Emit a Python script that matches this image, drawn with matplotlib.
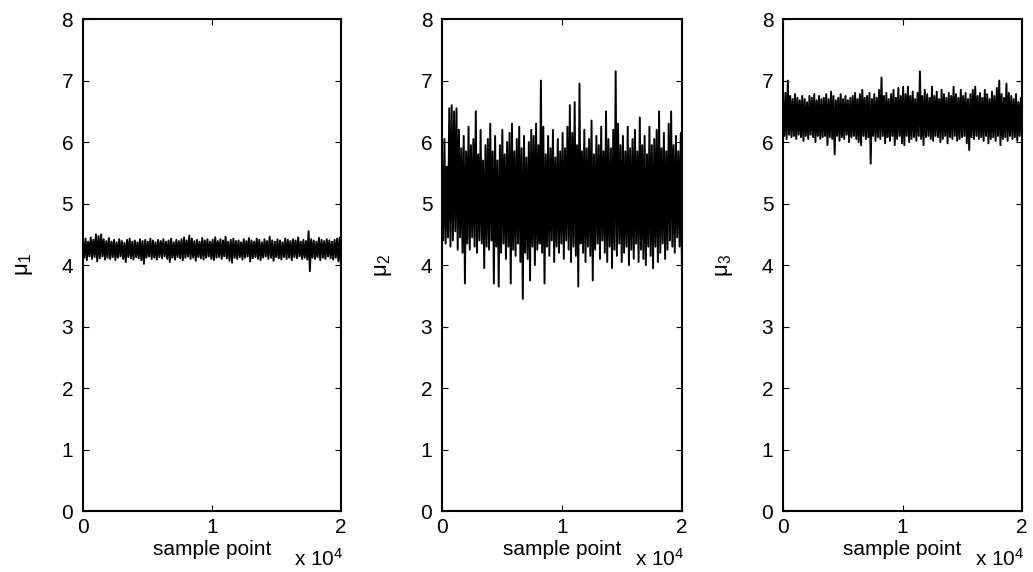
import numpy as np
import matplotlib
matplotlib.use("Agg")
import matplotlib.pyplot as plt

plt.rcParams['font.family'] = ['Liberation Sans', 'DejaVu Sans']
plt.rcParams['mathtext.default'] = 'regular'

# trace peaks / troughs, one pair every 200 samples
n_samples = 20000

mu1_high = [4.40, 4.43, 4.38, 4.45, 4.41, 4.50, 4.47, 4.50, 4.42, 4.39,
            4.44, 4.38, 4.41, 4.37, 4.42, 4.39, 4.36, 4.41, 4.43, 4.38,
            4.40, 4.37, 4.42, 4.39, 4.41, 4.38, 4.43, 4.40, 4.37, 4.41,
            4.39, 4.42, 4.38, 4.40, 4.43, 4.37, 4.41, 4.39, 4.42, 4.45,
            4.40, 4.48, 4.43, 4.39, 4.41, 4.38, 4.44, 4.40, 4.42, 4.38,
            4.41, 4.45, 4.39, 4.42, 4.40, 4.46, 4.38, 4.41, 4.43, 4.39,
            4.40, 4.37, 4.42, 4.39, 4.44, 4.40, 4.38, 4.43, 4.41, 4.37,
            4.42, 4.39, 4.46, 4.40, 4.38, 4.42, 4.40, 4.37, 4.43, 4.41,
            4.39, 4.42, 4.40, 4.45, 4.38, 4.41, 4.39, 4.55, 4.42, 4.40,
            4.38, 4.44, 4.41, 4.39, 4.42, 4.40, 4.38, 4.41, 4.43, 4.45]
mu1_low = [4.12, 4.08, 4.14, 4.10, 4.13, 4.06, 4.11, 4.14, 4.09, 4.12,
           4.10, 4.13, 4.08, 4.12, 4.14, 4.10, 4.05, 4.13, 4.11, 4.09,
           4.13, 4.11, 4.08, 4.02, 4.12, 4.14, 4.10, 4.12, 4.09, 4.13,
           4.11, 4.14, 4.10, 4.05, 4.12, 4.09, 4.13, 4.11, 4.08, 4.12,
           4.14, 4.10, 4.12, 4.07, 4.13, 4.11, 4.09, 4.12, 4.14, 4.10,
           4.08, 4.12, 4.13, 4.10, 4.14, 4.11, 4.07, 4.04, 4.12, 4.10,
           4.13, 4.09, 4.12, 4.14, 4.06, 4.11, 4.13, 4.10, 4.08, 4.12,
           4.14, 4.10, 4.12, 4.07, 4.13, 4.11, 4.09, 4.13, 4.10, 4.12,
           4.08, 4.13, 4.11, 4.14, 4.10, 4.12, 4.09, 3.90, 4.12, 4.10,
           4.13, 4.08, 4.12, 4.10, 4.14, 4.11, 4.09, 4.12, 4.06, 3.95]

mu2_high = [5.75, 6.05, 5.60, 6.55, 6.60, 6.50, 6.55, 6.20, 5.90, 6.10,
            5.85, 6.25, 5.95, 6.05, 6.50, 5.80, 6.20, 5.70, 5.95, 6.05,
            6.30, 5.85, 6.10, 5.70, 5.95, 6.20, 5.80, 6.00, 6.15, 6.30,
            5.85, 6.05, 6.25, 5.90, 6.10, 5.75, 6.00, 6.20, 6.10, 6.30,
            5.95, 7.00, 6.25, 5.80, 6.10, 5.90, 6.20, 5.75, 6.05, 5.85,
            6.15, 5.90, 6.25, 6.60, 6.15, 6.65, 5.95, 6.95, 5.85, 6.20,
            5.90, 6.05, 6.35, 5.80, 6.10, 5.95, 6.25, 5.85, 6.50, 6.05,
            5.90, 6.20, 7.15, 6.30, 5.95, 6.10, 5.85, 6.25, 5.90, 6.05,
            6.20, 5.85, 6.40, 5.95, 6.10, 5.80, 6.25, 5.95, 6.05, 6.20,
            6.50, 5.90, 6.15, 5.85, 6.30, 6.50, 5.95, 6.10, 5.85, 6.15]
mu2_low = [4.40, 4.35, 4.45, 4.30, 4.40, 4.55, 4.25, 4.45, 4.20, 3.70,
           4.35, 4.25, 4.45, 4.30, 4.20, 4.40, 4.35, 3.95, 4.30, 4.25,
           4.40, 3.70, 4.30, 3.65, 4.20, 4.35, 4.10, 4.30, 3.70, 4.25,
           4.15, 4.35, 4.05, 3.45, 4.20, 4.10, 3.75, 4.30, 4.00, 4.25,
           4.35, 4.20, 3.70, 4.30, 4.15, 4.40, 4.05, 4.30, 4.20, 4.35,
           4.10, 4.40, 4.25, 4.05, 4.30, 4.15, 3.65, 4.35, 4.20, 4.05,
           4.30, 4.15, 3.75, 4.25, 4.35, 4.10, 4.40, 4.20, 4.05, 4.30,
           3.95, 4.25, 4.15, 4.35, 4.05, 4.20, 4.30, 4.00, 4.25, 4.10,
           4.35, 4.05, 4.25, 4.10, 4.00, 4.30, 4.15, 3.95, 4.30, 4.05,
           4.20, 4.35, 4.10, 4.25, 4.40, 4.30, 4.20, 4.45, 4.30, 3.80]

mu3_high = [6.72, 6.80, 7.00, 6.75, 6.70, 6.78, 6.72, 6.68, 6.75, 6.70,
            6.65, 6.75, 6.72, 6.78, 6.68, 6.75, 6.70, 6.72, 6.78, 6.70,
            6.82, 6.75, 6.68, 6.72, 6.78, 6.70, 6.75, 6.68, 6.72, 6.75,
            6.80, 6.70, 6.78, 6.85, 6.72, 6.75, 6.80, 6.70, 6.78, 6.72,
            6.85, 7.05, 6.75, 6.80, 6.70, 6.78, 6.85, 6.72, 6.88, 6.75,
            6.90, 6.78, 6.90, 6.75, 6.82, 6.70, 6.80, 7.15, 6.75, 6.85,
            6.78, 6.72, 6.90, 6.75, 6.82, 6.70, 6.85, 6.78, 6.72, 6.80,
            6.75, 6.90, 6.78, 6.72, 6.85, 6.75, 6.80, 6.70, 6.78, 6.85,
            6.90, 6.75, 6.80, 6.72, 6.85, 6.78, 6.70, 6.82, 6.75, 6.88,
            7.00, 6.78, 6.72, 6.95, 6.80, 6.75, 6.70, 6.78, 6.65, 6.72]
mu3_low = [6.10, 6.05, 6.12, 6.08, 6.10, 6.05, 6.12, 6.08, 6.02, 6.10,
           6.05, 6.12, 6.08, 6.00, 6.10, 6.05, 6.08, 6.10, 5.95, 6.08,
           6.05, 5.80, 6.10, 6.02, 6.08, 6.05, 6.12, 6.00, 6.08, 6.10,
           6.05, 6.00, 5.95, 6.10, 6.05, 6.08, 5.65, 6.10, 6.02, 6.08,
           6.05, 6.10, 5.98, 6.08, 6.02, 6.10, 5.95, 6.05, 6.10, 5.98,
           5.95, 6.10, 6.00, 6.05, 6.08, 6.02, 6.10, 6.05, 5.95, 6.08,
           6.10, 6.05, 6.02, 6.10, 6.08, 6.00, 6.05, 6.10, 5.98, 6.08,
           6.05, 6.10, 6.02, 6.05, 6.08, 6.10, 5.98, 5.87, 6.08, 6.05,
           6.10, 6.05, 6.08, 6.02, 6.10, 5.98, 6.05, 6.08, 6.02, 6.10,
           5.95, 6.05, 6.08, 6.02, 6.10, 6.05, 6.08, 6.02, 6.10, 6.05]

ylabels = [r'$\mu_1$', r'$\mu_2$', r'$\mu_3$']
xticks = [0, 10000, 20000]
xticklabels = ['0', '1', '2']
yticks = [0, 1, 2, 3, 4, 5, 6, 7, 8]


def trace(high, low):
    # interleave peaks and troughs into one sample sequence
    y = np.empty(2 * len(high))
    y[0::2] = high
    y[1::2] = low
    x = np.linspace(0, n_samples, len(y))
    return x, y


fig = plt.figure(figsize=(10.33, 5.72), dpi=100)
boxes = [[0.0803, 0.1066, 0.2498, 0.860],
         [0.4279, 0.1066, 0.2323, 0.860],
         [0.7580, 0.1066, 0.2314, 0.860]]
series = [(mu1_high, mu1_low), (mu2_high, mu2_low), (mu3_high, mu3_low)]

for box, (hi, lo), lab in zip(boxes, series, ylabels):
    ax = fig.add_axes(box)
    x, y = trace(hi, lo)
    ax.plot(x, y, color='black', linewidth=1.4)
    ax.set_xlim(0, n_samples)
    ax.set_ylim(0, 8)
    ax.set_xticks(xticks)
    ax.set_xticklabels(xticklabels)
    ax.set_yticks(yticks)
    ax.tick_params(direction='in', top=True, right=True, length=4,
                   width=0.8, labelsize=15)
    ax.tick_params(axis='x', pad=5)
    ax.tick_params(axis='y', pad=7)
    for s in ax.spines.values():
        s.set_linewidth(1.5)
    ax.set_xlabel('sample point', fontsize=15, labelpad=2)
    ax.set_ylabel(lab, fontsize=16, labelpad=19)
    ax.text(1.01, -0.097, r'x 10$^4$', transform=ax.transAxes,
            ha='right', va='center', fontsize=15)

fig.savefig('out.png', dpi=100)
